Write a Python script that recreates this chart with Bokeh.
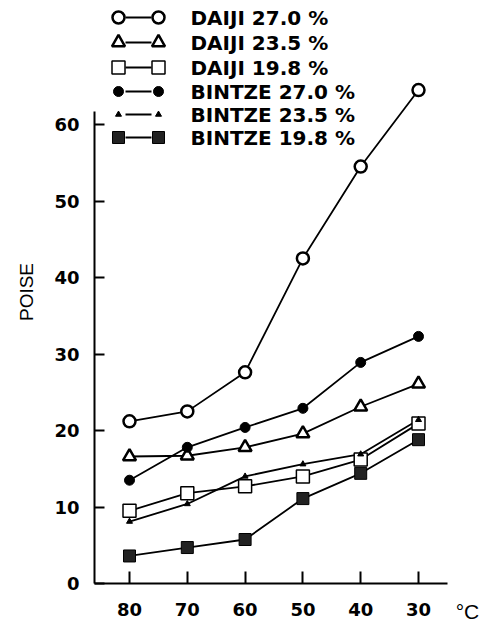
from bokeh.plotting import figure
from bokeh.models import Range1d, FixedTicker
from bokeh.core.properties import value
from bokeh.embed import file_html
from bokeh.resources import INLINE

# ---- data ----
temps = [80, 70, 60, 50, 40, 30]
daiji_270 = [21.2, 22.5, 27.6, 42.5, 54.5, 64.5]
daiji_235 = [16.6, 16.7, 17.8, 19.6, 23.1, 26.1]
daiji_198 = [9.5, 11.8, 12.7, 14.0, 16.2, 20.9]
bintze_270 = [13.5, 17.8, 20.4, 22.9, 28.9, 32.3]
bintze_235 = [8.1, 10.4, 14.0, 15.6, 16.9, 21.4]
bintze_198 = [3.6, 4.7, 5.75, 11.1, 14.4, 18.8]
series_labels = ["DAIJI 27.0 %", "DAIJI 23.5 %", "DAIJI 19.8 %",
                 "BINTZE 27.0 %", "BINTZE 23.5 %", "BINTZE 19.8 %"]
y_ticks = [0, 10, 20, 30, 40, 50, 60]
x_ticks = [80, 70, 60, 50, 40, 30]
y_label = "POISE"
x_unit = "°C"

# ---- layout (page pixels == canvas pixels) ----
W, H = 484, 631
PXD = 5.78   # px per degree
PXV = 7.65   # px per poise
FL, FR, FT, FB = 94, 467, 0, 583   # frame edges
X0 = 80 + (129 - FL) / PXD
X1 = X0 - (FR - FL) / PXD
XEND = X0 - (447 - FL) / PXD        # end of the drawn x axis line
Y0 = 0.0
Y1 = (FB - FT) / PXV

p = figure(width=W, height=H, output_backend="svg", toolbar_location=None,
           x_range=Range1d(X0, X1), y_range=Range1d(Y0, Y1),
           min_border_left=FL, min_border_right=W - FR, min_border_top=FT,
           min_border_bottom=H - FB)
p.outline_line_color = None
p.xgrid.visible = False
p.ygrid.visible = False
p.background_fill_color = "white"

FONT = "DejaVu Sans"

for ax in (p.xaxis[0], p.yaxis[0]):
    ax.axis_line_color = "black"
    ax.axis_line_width = 2
    ax.major_tick_line_color = "black"
    ax.major_tick_line_width = 2
    ax.major_tick_out = 0
    ax.minor_tick_line_color = None
    ax.major_label_text_font = FONT
    ax.major_label_text_font_style = "bold"
    ax.major_label_text_font_size = "18px"
    ax.major_label_text_color = "black"

p.yaxis.ticker = FixedTicker(ticks=y_ticks)
p.yaxis.major_tick_in = 10
p.yaxis.bounds = (0, 61.7)
p.yaxis.major_label_standoff = 15
p.yaxis.axis_label = y_label
p.yaxis.axis_label_text_font = "Liberation Sans"
p.yaxis.axis_label_text_font_style = "normal"
p.yaxis.axis_label_text_font_size = "19px"
p.yaxis.axis_label_text_color = "black"
p.yaxis.axis_label_standoff = 14

p.xaxis.ticker = FixedTicker(ticks=x_ticks)
p.xaxis.bounds = (X0, XEND)
p.xaxis.major_tick_in = 12
p.xaxis.major_label_standoff = 19
p.xaxis.axis_label = x_unit
p.xaxis.axis_label_align = "start"
p.xaxis.axis_label_standoff = -19
p.xaxis.axis_label_text_font = "Liberation Sans"
p.xaxis.axis_label_text_font_style = "normal"
p.xaxis.axis_label_text_font_size = "21px"
p.xaxis.axis_label_text_color = "black"

# ---- data series ----
styles = [
    (daiji_270, "circle", 12, "white", 2.5),
    (daiji_235, "triangle", 13, "white", 2.5),
    (daiji_198, "square", 13, "white", 1.5),
    (bintze_270, "circle", 10, "black", 1.0),
    (bintze_235, "triangle", 6, "black", 1.0),
    (bintze_198, "square", 12, "#222222", 1.0),
]

for vals, m, s, fc, lw in styles:
    p.line(temps, vals, line_color="black", line_width=1.8)
for vals, m, s, fc, lw in styles:
    p.scatter(temps, vals, marker=m, size=s, fill_color=fc,
              line_color="black", line_width=lw)

# ---- legend (hand drawn, pixel layout converted to data units) ----
def dx(px):
    return X0 - (px - FL) / PXD

def dy(py):
    return (FB - py) / PXV

rows = [17, 42, 67, 91, 114, 137]
for (vals, m, s, fc, lw), py, lab in zip(styles, rows, series_labels):
    p.line([dx(125), dx(151)], [dy(py), dy(py)], line_color="black", line_width=1.8)
    p.scatter([dx(118), dx(158)], [dy(py), dy(py)], marker=m, size=s,
              fill_color=fc, line_color="black", line_width=lw)
    p.text([dx(190)], [dy(py)], text=[lab], text_font=value(FONT),
           text_font_style="bold", text_font_size="20px",
           text_baseline="middle", text_align="left", text_color="black")

open("out.html", "w").write(file_html(p, INLINE))
